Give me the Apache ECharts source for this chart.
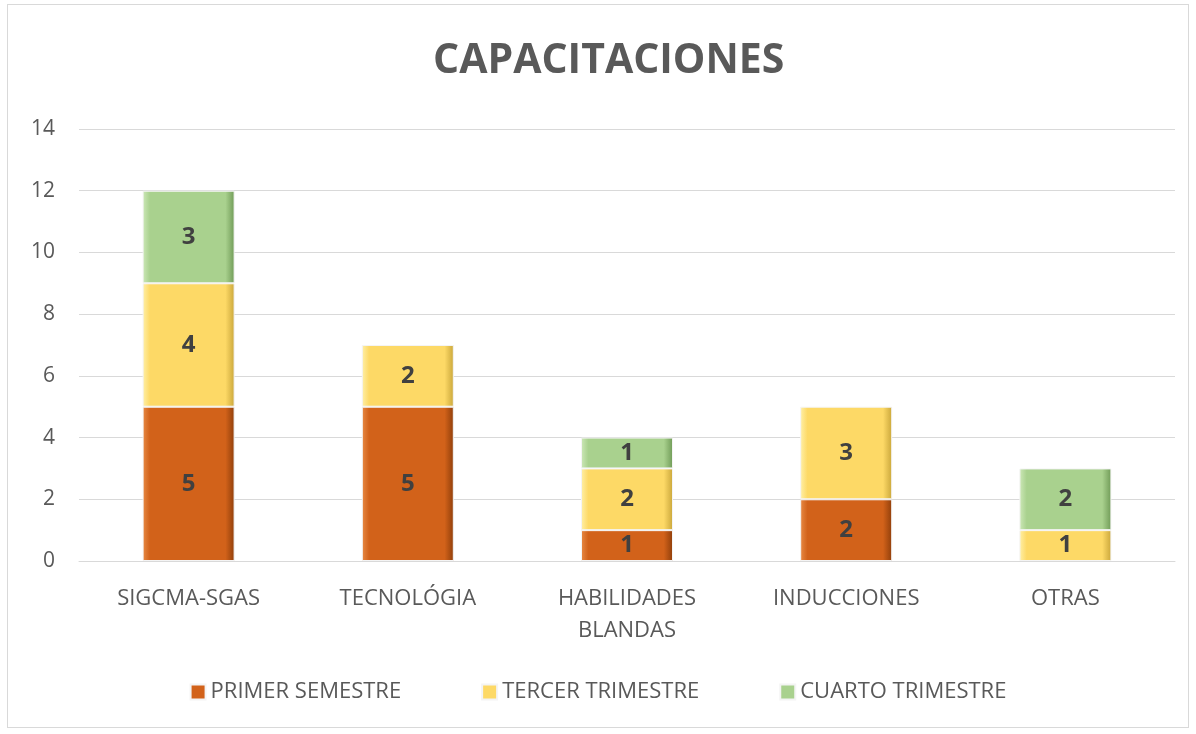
<!DOCTYPE html>
<html>
<head>
<meta charset="utf-8">
<script src="https://cdn.jsdelivr.net/npm/echarts@6/dist/echarts.min.js"></script>
<style>
  html, body { margin: 0; padding: 0; background: #fff; }
  #frame { position: absolute; left: 7px; top: 4px; width: 1182px; height: 724px; border: 1px solid #d9d9d9; box-sizing: border-box; }
  #main { position: absolute; left: 0; top: 0; width: 1196px; height: 734px; }
</style>
</head>
<body>
<div id="frame"></div>
<div id="main"></div>
<script>
var categories = ['SIGCMA-SGAS', 'TECNOLÓGIA', 'HABILIDADES\nBLANDAS', 'INDUCCIONES', 'OTRAS']
var primerSemestre = [5, 5, 1, 2, 0]
var tercerTrimestre = [4, 2, 2, 3, 1]
var cuartoTrimestre = [3, 0, 1, 0, 2]

function bevel(light, mid, dark) {
  return new echarts.graphic.LinearGradient(0, 0, 1, 0, [
    { offset: 0, color: light },
    { offset: 0.08, color: mid },
    { offset: 0.9, color: mid },
    { offset: 1, color: dark }
  ])
}

function makeSeries(name, data, light, mid, dark) {
  return {
    name: name,
    type: 'bar',
    stack: 'total',
    barWidth: 92,
    data: data.map(function (v) { return v === 0 ? null : v }),
    itemStyle: {
      color: bevel(light, mid, dark),
      borderColor: '#f4f4f4',
      borderWidth: 1
    },
    label: {
      show: true,
      position: 'inside',
      color: '#404040',
      fontSize: 24,
      fontWeight: 'bold',
      fontFamily: 'Open Sans'
    }
  }
}

var chart = echarts.init(document.getElementById('main'))
chart.setOption({
  animation: false,
  title: {
    text: 'CAPACITACIONES',
    left: 428,
    top: 36,
    textStyle: { color: '#595959', fontSize: 41, fontWeight: 'bold', fontFamily: 'Open Sans' }
  },
  legend: {
    bottom: 26,
    left: 'center',
    itemWidth: 15,
    itemHeight: 15,
    itemGap: 80,
    icon: 'rect',
    textStyle: { color: '#595959', fontSize: 22, fontFamily: 'Open Sans' },
    data: ['PRIMER SEMESTRE', 'TERCER TRIMESTRE', 'CUARTO TRIMESTRE']
  },
  grid: { left: 79, right: 21, top: 129, bottom: 173 },
  xAxis: {
    type: 'category',
    data: categories,
    axisTick: { show: false },
    axisLine: { lineStyle: { color: '#d9d9d9' } },
    axisLabel: { color: '#595959', fontSize: 22, fontFamily: 'Open Sans', margin: 22, lineHeight: 32 }
  },
  yAxis: {
    type: 'value',
    min: 0,
    max: 14,
    interval: 2,
    axisLine: { show: false },
    axisTick: { show: false },
    splitLine: { lineStyle: { color: '#d9d9d9' } },
    axisLabel: { color: '#595959', fontSize: 21, fontFamily: 'Open Sans', margin: 24 }
  },
  series: [
    makeSeries('PRIMER SEMESTRE', primerSemestre, '#e88a45', '#d2621a', '#8f3e0a'),
    makeSeries('TERCER TRIMESTRE', tercerTrimestre, '#fff0a8', '#fdd966', '#c9a63a'),
    makeSeries('CUARTO TRIMESTRE', cuartoTrimestre, '#cde8b8', '#a9d18e', '#6f9a56')
  ]
})
</script>
</body>
</html>
